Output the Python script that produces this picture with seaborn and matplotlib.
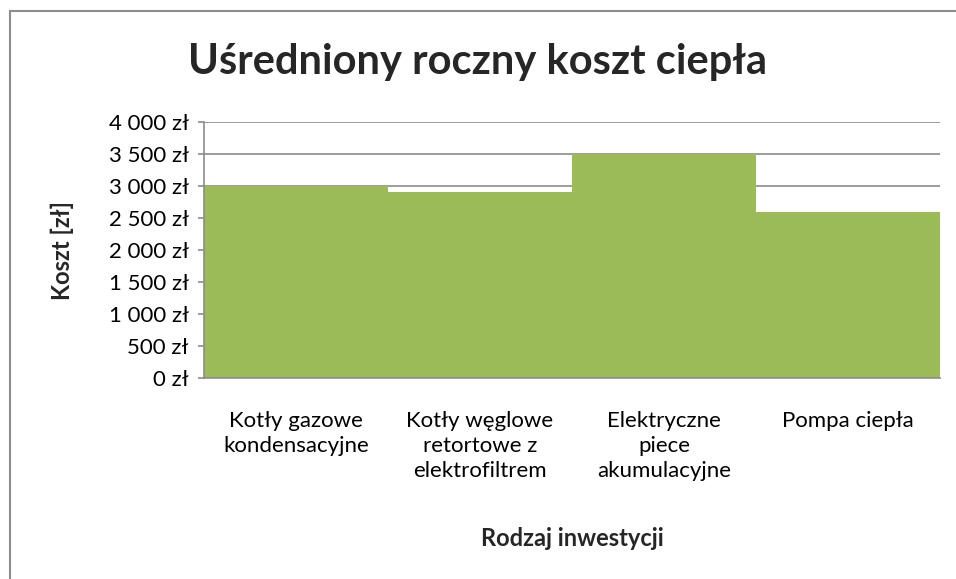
import matplotlib
matplotlib.use("Agg")
import matplotlib.pyplot as plt
import seaborn as sns
from matplotlib.patches import Rectangle
from matplotlib.ticker import FixedLocator

# Average yearly heating cost per investment type
categories = [
    "Kotły gazowe\nkondensacyjne",
    "Kotły węglowe\nretortowe z\nelektrofiltrem",
    "Elektryczne\npiece\nakumulacyjne",
    "Pompa ciepła",
]
costs = [3000, 2900, 3500, 2600]
y_ticks = [0, 500, 1000, 1500, 2000, 2500, 3000, 3500, 4000]
y_tick_labels = ["0 zł", "500 zł", "1 000 zł", "1 500 zł", "2 000 zł",
                 "2 500 zł", "3 000 zł", "3 500 zł", "4 000 zł"]

title = "Uśredniony roczny koszt ciepła"
x_label = "Rodzaj inwestycji"
y_label = "Koszt [zł]"

sns.set_theme(style="white")
plt.rcParams["font.family"] = ["Lato", "DejaVu Sans"]

bar_color = "#9BBB59"
line_color = "#8C8C8C"

fig = plt.figure(figsize=(9.56, 5.79), dpi=100)
ax = fig.add_axes([204 / 956, 1 - 378 / 579, 736 / 956, 256 / 579])

sns.barplot(x=categories, y=costs, color=bar_color, saturation=1,
            width=1.0, linewidth=0, ax=ax)

ax.set_ylim(0, 4000)
ax.set_xlim(-0.5, len(categories) - 0.5)
ax.yaxis.set_major_locator(FixedLocator(y_ticks))
ax.set_yticklabels(y_tick_labels)
ax.set_axisbelow(True)
ax.grid(axis="y", color=line_color, linewidth=1.2)
ax.grid(axis="x", visible=False)

for side in ("top", "right"):
    ax.spines[side].set_visible(False)
for side in ("left", "bottom"):
    ax.spines[side].set_color(line_color)
    ax.spines[side].set_linewidth(1.2)

ax.tick_params(axis="y", direction="out", length=4, width=1.2, color=line_color,
               labelsize=16, pad=7, labelcolor="black", left=True)
ax.tick_params(axis="x", length=0, labelsize=16, pad=24, labelcolor="black")
for lbl in ax.get_xticklabels():
    lbl.set_linespacing(1.3)
    lbl.set_verticalalignment("top")

ax.set_xlabel("")
ax.set_ylabel("")
fig.text(572 / 956, 1 - 538 / 579, x_label, ha="center", va="center",
         fontsize=17, fontweight="bold")
fig.text(62 / 956, 1 - 250 / 579, y_label, ha="center", va="center",
         rotation=90, fontsize=17, fontweight="bold")
fig.text(478 / 956, 1 - 62 / 579, title, ha="center", va="center",
         fontsize=30, fontweight="bold")

# Chart frame running past the right and bottom edges
fig.patches.append(Rectangle((9.5 / 956, -0.05), 1.2, 1.05 - 11 / 579,
                             transform=fig.transFigure, fill=False,
                             edgecolor=line_color, linewidth=1.5))

fig.savefig("out.png", dpi=100)
